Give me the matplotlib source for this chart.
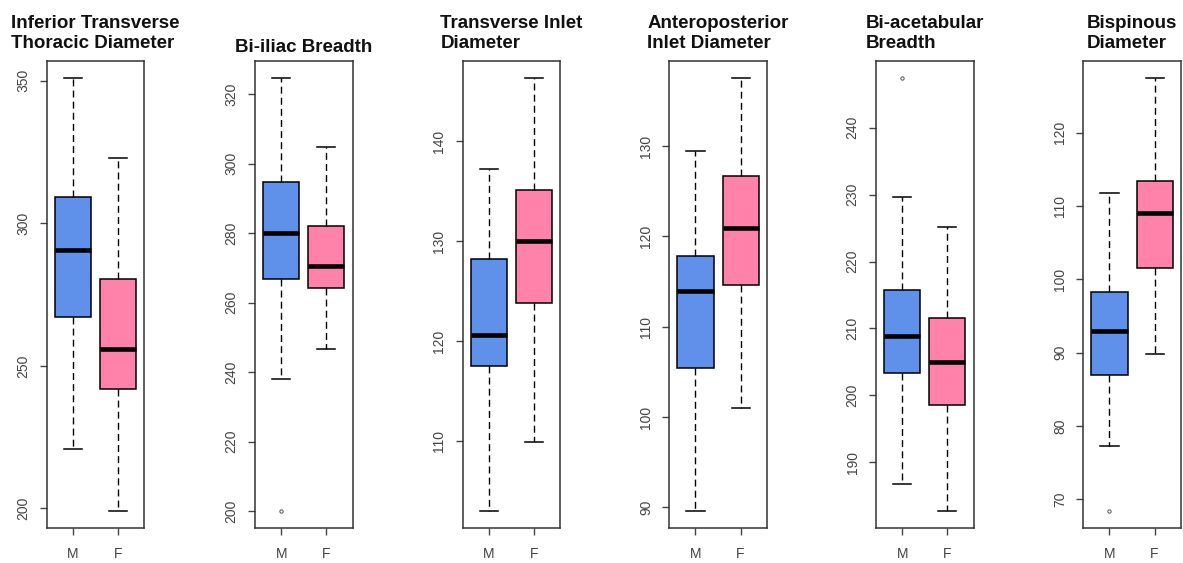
import matplotlib
matplotlib.use("Agg")
import matplotlib.pyplot as plt

plt.rcParams['font.family'] = ['Liberation Sans', 'DejaVu Sans']

titles = [
    "Inferior Transverse\nThoracic Diameter",
    "Bi-iliac Breadth",
    "Transverse Inlet\nDiameter",
    "Anteroposterior\nInlet Diameter",
    "Bi-acetabular\nBreadth",
    "Bispinous\nDiameter",
]
groups = ["M", "F"]

# [whisker low, Q1, median, Q3, whisker high]
male_stats = [
    [221.0, 267.2, 290.5, 309.1, 350.8],
    [238.1, 266.7, 280.0, 294.8, 324.6],
    [103.0, 117.5, 120.6, 128.2, 137.2],
    [89.6, 105.4, 113.9, 117.8, 129.4],
    [186.8, 203.4, 208.8, 215.8, 229.6],
    [77.3, 86.9, 93.0, 98.2, 111.7],
]
female_stats = [
    [199.1, 241.8, 256.0, 280.6, 322.9],
    [246.7, 264.3, 270.5, 282.2, 304.9],
    [109.9, 123.8, 130.0, 135.1, 146.3],
    [101.0, 114.6, 120.9, 126.7, 137.5],
    [182.7, 198.5, 205.0, 211.5, 225.1],
    [89.8, 101.5, 109.0, 113.4, 127.4],
]
male_outliers = [[], [200.0], [], [], [247.4], [68.4]]
female_outliers = [[], [], [], [], [], []]

yticks = [
    [200, 250, 300, 350],
    [200, 220, 240, 260, 280, 300, 320],
    [110, 120, 130, 140],
    [90, 100, 110, 120, 130],
    [190, 200, 210, 220, 230, 240],
    [70, 80, 90, 100, 110, 120],
]

colors = ["#5F90EA", "#FF82AB"]

W, H = 1183, 563
fig = plt.figure(figsize=(W / 100, H / 100), dpi=100)

lefts_px = [46.7, 255.0, 462.7, 669.3, 876.0, 1083.3]
ax_w_px = 97.5
ax_top_px, ax_bot_px = 61.0, 528.3

def mk(st, fl, label):
    return dict(whislo=st[0], q1=st[1], med=st[2], q3=st[3], whishi=st[4],
                fliers=fl, label=label)

for i in range(6):
    ax = fig.add_axes([lefts_px[i] / W, (H - ax_bot_px) / H,
                       ax_w_px / W, (ax_bot_px - ax_top_px) / H])
    stats = [mk(male_stats[i], male_outliers[i], groups[0]),
             mk(female_stats[i], female_outliers[i], groups[1])]
    res = ax.bxp(stats, positions=[1, 2], widths=0.8, patch_artist=True,
                 showfliers=True,
                 boxprops=dict(edgecolor="black", linewidth=1.1),
                 medianprops=dict(color="black", linewidth=3.3, solid_capstyle="butt"),
                 whiskerprops=dict(color="black", linewidth=1.0, linestyle=(0, (5, 3))),
                 capprops=dict(color="black", linewidth=1.1),
                 capwidths=0.4,
                 flierprops=dict(marker="o", markersize=2.4, markerfacecolor="none",
                                 markeredgecolor="#555555", markeredgewidth=0.7))
    for patch, c in zip(res["boxes"], colors):
        patch.set_facecolor(c)

    allv = male_stats[i] + female_stats[i] + male_outliers[i] + female_outliers[i]
    lo, hi = min(allv), max(allv)
    pad = 0.04 * (hi - lo)
    ax.set_ylim(lo - pad, hi + pad)
    ax.set_xlim(0.42, 2.58)
    ax.set_yticks(yticks[i])
    ax.set_yticklabels([str(t) for t in yticks[i]], rotation=90, va="center")
    ax.set_xticks([1, 2])
    ax.set_xticklabels(groups)
    ax.tick_params(axis="both", direction="out", length=5.3, width=1.0,
                   color="#444444", labelcolor="#444444", labelsize=10)
    ax.tick_params(axis="y", pad=6.5)
    ax.tick_params(axis="x", pad=8)
    for sp in ax.spines.values():
        sp.set_color("#333333")
        sp.set_linewidth(1.1)

    nlines = titles[i].count("\n") + 1
    off = 6.5 if nlines > 1 else 3.5
    ax.annotate(titles[i], xy=(0.5, 1.0), xycoords="axes fraction",
                xytext=(0, off), textcoords="offset points",
                ha="center", va="bottom", multialignment="left",
                fontsize=13.5, fontweight="bold", color="#111111",
                linespacing=1.2, annotation_clip=False)

fig.savefig("out.png", dpi=100)
